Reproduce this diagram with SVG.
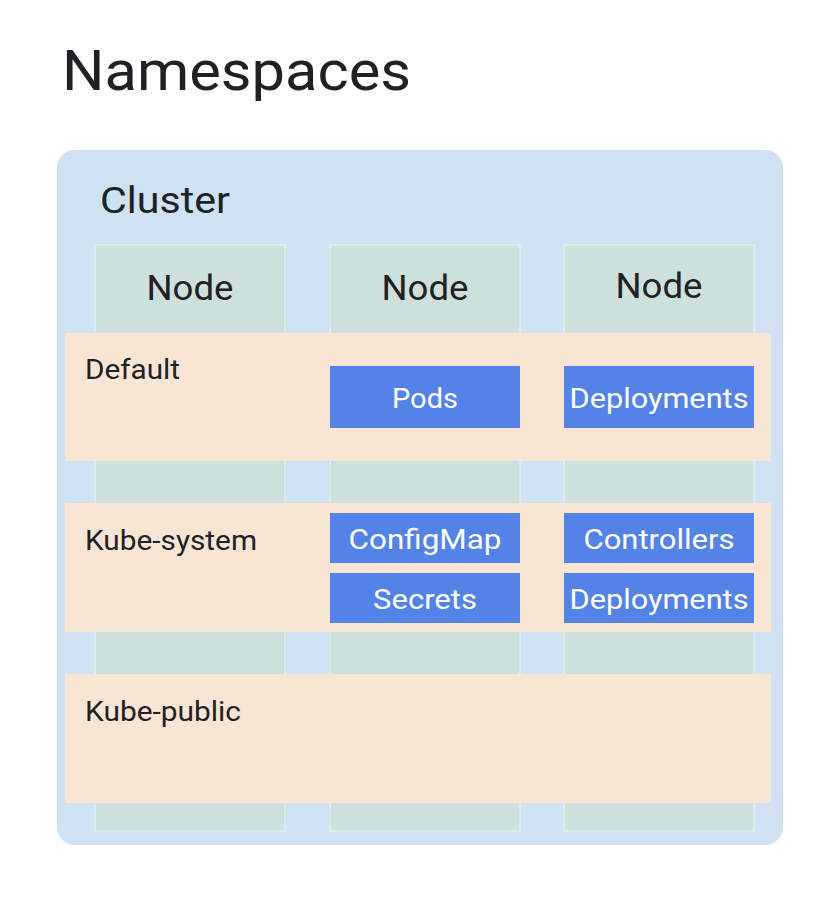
<svg xmlns="http://www.w3.org/2000/svg" width="814" height="900" viewBox="0 0 814 900">
<style>
text{font-family:Roboto,"Open Sans","Liberation Sans",sans-serif;fill:#202124;lengthAdjust:spacingAndGlyphs}
.node{fill:#cde0de;stroke:#e2eef0;stroke-width:1.5}
.band{fill:#f8e5d4}
.res{fill:#5383e6}
.rt{fill:#ffffff;font-size:28px;text-anchor:middle}
.nt{font-size:35px;text-anchor:middle}
.bt{font-size:27px}
</style>
<rect width="814" height="900" fill="#ffffff"/>
<text x="62" y="90" font-size="55" textLength="349" lengthAdjust="spacingAndGlyphs">Namespaces</text>
<g id="cluster">
<rect x="57" y="150" width="726" height="695" rx="18" fill="#cfe2f3"/>
<text x="100" y="213" font-size="37" textLength="130" lengthAdjust="spacingAndGlyphs">Cluster</text>
</g>
<g id="node1"><rect class="node" x="95" y="245" width="190" height="586"/><text class="nt" x="190" y="300" textLength="87" lengthAdjust="spacingAndGlyphs">Node</text></g>
<g id="node2"><rect class="node" x="330" y="245" width="190" height="586"/><text class="nt" x="425" y="300" textLength="87" lengthAdjust="spacingAndGlyphs">Node</text></g>
<g id="node3"><rect class="node" x="564" y="245" width="190" height="586"/><text class="nt" x="659" y="298" textLength="87" lengthAdjust="spacingAndGlyphs">Node</text></g>
<g id="ns-default"><rect class="band" x="65" y="333" width="706" height="128"/><text class="bt" x="85" y="379" textLength="95" lengthAdjust="spacingAndGlyphs">Default</text></g>
<g id="ns-kube-system"><rect class="band" x="65" y="503" width="706" height="129"/><text class="bt" x="85" y="550" textLength="172" lengthAdjust="spacingAndGlyphs">Kube-system</text></g>
<g id="ns-kube-public"><rect class="band" x="65" y="674" width="706" height="129"/><text class="bt" x="85" y="721" textLength="156" lengthAdjust="spacingAndGlyphs">Kube-public</text></g>
<g id="pods"><rect class="res" x="330" y="366" width="190" height="62"/><text class="rt" x="425" y="408" textLength="66" lengthAdjust="spacingAndGlyphs">Pods</text></g>
<g id="deployments1"><rect class="res" x="564" y="366" width="190" height="62"/><text class="rt" x="659" y="408" textLength="179" lengthAdjust="spacingAndGlyphs">Deployments</text></g>
<g id="configmap"><rect class="res" x="330" y="513" width="190" height="50"/><text class="rt" x="425" y="549" textLength="153" lengthAdjust="spacingAndGlyphs">ConfigMap</text></g>
<g id="secrets"><rect class="res" x="330" y="573" width="190" height="50"/><text class="rt" x="425" y="609" textLength="104" lengthAdjust="spacingAndGlyphs">Secrets</text></g>
<g id="controllers"><rect class="res" x="564" y="513" width="190" height="50"/><text class="rt" x="659" y="549" textLength="151" lengthAdjust="spacingAndGlyphs">Controllers</text></g>
<g id="deployments2"><rect class="res" x="564" y="573" width="190" height="50"/><text class="rt" x="659" y="609" textLength="179" lengthAdjust="spacingAndGlyphs">Deployments</text></g>
<g id="connectors"></g>
</svg>
